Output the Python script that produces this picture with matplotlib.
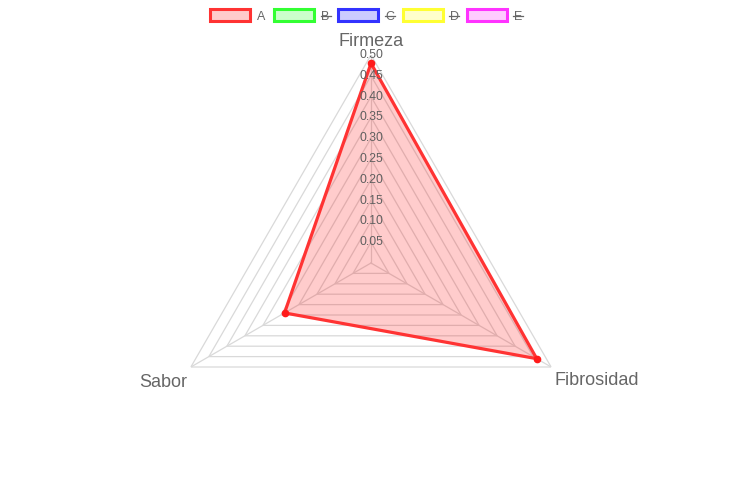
import numpy as np
import matplotlib
matplotlib.use("Agg")
import matplotlib.pyplot as plt
from matplotlib.patches import Rectangle
from matplotlib.lines import Line2D

plt.rcParams['font.family'] = ['Liberation Sans', 'DejaVu Sans']

# datos
categorias = ['Firmeza', 'Fibrosidad', 'Sabor']
valores_a = [0.48, 0.46, 0.24]
series = ['A', 'B', 'C', 'D', 'E']
ocultas = [False, True, True, True, True]
bordes = ['#ff3333', '#33ff33', '#3333ff', '#ffff33', '#ff33ff']
rellenos = ['#ffcccc', '#ccffcc', '#ccccff', '#ffffcc', '#ffccff']
niveles = [0.05, 0.10, 0.15, 0.20, 0.25, 0.30, 0.35, 0.40, 0.45, 0.50]
etiquetas_niveles = ['0.05', '0.10', '0.15', '0.20', '0.25', '0.30', '0.35', '0.40', '0.45', '0.50']

W, H = 742, 494
fig = plt.figure(figsize=(W / 100, H / 100), dpi=100)

# polar axes centred at (371, 263) px, radius 208 px
cx, cy, R = 371, 263, 208
ax = fig.add_axes([(cx - R) / W, (H - cy - R) / H, 2 * R / W, 2 * R / H], projection='polar')
ax.set_theta_offset(np.pi / 2)
ax.set_theta_direction(-1)
ax.set_ylim(0, 0.5)
ax.set_axis_off()

n = len(categorias)
ang = np.arange(n) * 2 * np.pi / n
ang_c = np.append(ang, ang[0])

gris = '#d9d9d9'
# polygon grid
for r in niveles:
    ax.plot(ang_c, [r] * (n + 1), color=gris, lw=0.9, zorder=1)
# angle lines
for a in ang:
    ax.plot([a, a], [0, 0.5], color=gris, lw=0.9, zorder=1)

# dataset A
vals = np.append(valores_a, valores_a[0])
ax.fill(ang_c, vals, color='#ff0000', alpha=0.2, lw=0, zorder=2)
ax.plot(ang_c, vals, color=bordes[0], lw=2.3, zorder=3)
ax.plot(ang, valores_a, 'o', color='#ff1a1a', ms=4.5, zorder=4)

# tick labels
for r, t in zip(niveles, etiquetas_niveles):
    ax.text(0, r, t, ha='center', va='center', fontsize=8.8, color='#606060', zorder=5)

# point labels
desplaz = [(0, 12.5, 'center'), (3, -13, 'left'), (-3.5, -15, 'right')]
for a, c, (dx, dy, ha) in zip(ang, categorias, desplaz):
    ax.annotate(c, xy=(a, 0.5), xytext=(dx * 0.75, dy * 0.75), textcoords='offset points',
                ha=ha, va='center', fontsize=13, color='#666666', annotation_clip=False)

# legend
x0 = 210
for i, (s, b, f, o) in enumerate(zip(series, bordes, rellenos, ocultas)):
    xb = x0 + i * 64.2
    fig.add_artist(Rectangle((xb / W, (H - 21) / H), 40 / W, 12 / H,
                             transform=fig.transFigure, facecolor=f, edgecolor=b, lw=2.2))
    tx = xb + 47
    fig.text(tx / W, (H - 16.5) / H, s, ha='left', va='center', fontsize=9, color='#666666')
    if o:
        fig.add_artist(Line2D([(tx - 0.5) / W, (tx + 9.5) / W], [(H - 16.5) / H] * 2,
                              transform=fig.transFigure, color='#666666', lw=0.9))

fig.savefig('out.png', dpi=100)
